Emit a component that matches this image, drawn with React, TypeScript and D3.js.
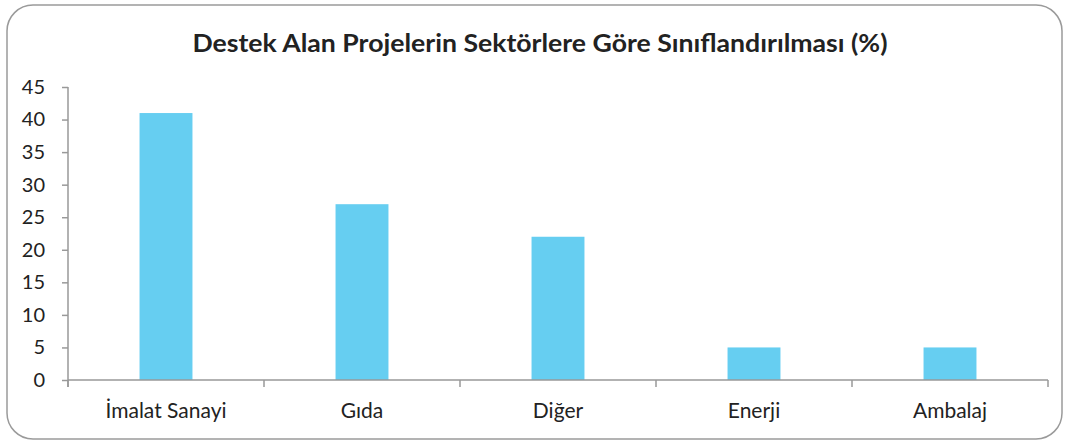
import React, { useEffect, useRef } from "react";
import * as d3 from "d3";

const categories = ["İmalat Sanayi", "Gıda", "Diğer", "Enerji", "Ambalaj"];
const values = [41, 27, 22, 5, 5];
const yTicks = [0, 5, 10, 15, 20, 25, 30, 35, 40, 45];
const title = "Destek Alan Projelerin Sektörlere Göre Sınıflandırılması (%)";

const width = 1068;
const height = 442;
const margin = { top: 87, right: 20, bottom: 62, left: 68 };

export default function App() {
  const ref = useRef<SVGSVGElement>(null);

  useEffect(() => {
    const svg = d3.select(ref.current);
    svg.selectAll("*").remove();

    const font = "Lato, 'Open Sans', sans-serif";

    svg
      .append("rect")
      .attr("x", 7)
      .attr("y", 5)
      .attr("width", 1055)
      .attr("height", 434)
      .attr("rx", 26)
      .attr("fill", "white")
      .attr("stroke", "#9a9a9a")
      .attr("stroke-width", 1.5);

    svg
      .append("text")
      .attr("x", 540)
      .attr("y", 52)
      .attr("text-anchor", "middle")
      .attr("font-family", font)
      .attr("font-weight", "bold")
      .attr("font-size", 24)
      .attr("textLength", 695)
      .attr("lengthAdjust", "spacingAndGlyphs")
      .attr("fill", "#222")
      .text(title);

    const x = d3
      .scaleBand()
      .domain(categories)
      .range([margin.left, 1048]);

    const y = d3
      .scaleLinear()
      .domain([0, 45])
      .range([380, margin.top]);

    const barW = x.bandwidth() * 0.27;

    svg
      .append("g")
      .attr("fill", "#66cef1")
      .selectAll("rect")
      .data(values)
      .enter()
      .append("rect")
      .attr("x", (d, i) => x(categories[i])! + x.bandwidth() / 2 - barW / 2)
      .attr("y", (d) => y(d))
      .attr("width", barW)
      .attr("height", (d) => y(0) - y(d));

    // y axis
    const yAxis = d3
      .axisLeft(y)
      .tickValues(yTicks)
      .tickSize(6)
      .tickPadding(17)
      .tickSizeOuter(0);
    const gy = svg
      .append("g")
      .attr("transform", `translate(${margin.left},0)`)
      .call(yAxis);
    gy.select(".domain").attr("stroke", "#999").attr("stroke-width", 1.5);
    gy.selectAll(".tick line").attr("stroke", "#999").attr("stroke-width", 1.5);
    gy.selectAll(".tick text")
      .attr("font-family", font)
      .attr("font-size", 20)
      .attr("fill", "#222");
    gy.select(".domain").attr("d", `M0,${y(45)}V${y(0) + 7}`);

    // x axis
    const gx = svg.append("g").attr("transform", `translate(0,${y(0)})`);
    gx.append("line")
      .attr("x1", margin.left)
      .attr("x2", 1048)
      .attr("stroke", "#999")
      .attr("stroke-width", 1.5);
    const bounds = categories.map((c) => x(c)!).concat([1048]);
    gx.selectAll(".sep")
      .data(bounds)
      .enter()
      .append("line")
      .attr("x1", (d) => d)
      .attr("x2", (d) => d)
      .attr("y1", 0)
      .attr("y2", 7)
      .attr("stroke", "#999")
      .attr("stroke-width", 1.5);
    gx.selectAll(".lbl")
      .data(categories)
      .enter()
      .append("text")
      .attr("x", (d) => x(d)! + x.bandwidth() / 2)
      .attr("y", 38)
      .attr("text-anchor", "middle")
      .attr("font-family", font)
      .attr("font-size", 21)
      .attr("fill", "#222")
      .text((d) => d);
  }, []);

  return (
    <svg
      ref={ref}
      width={width}
      height={height}
      style={{ position: "absolute", left: 0, top: 0 }}
    ></svg>
  );
}
